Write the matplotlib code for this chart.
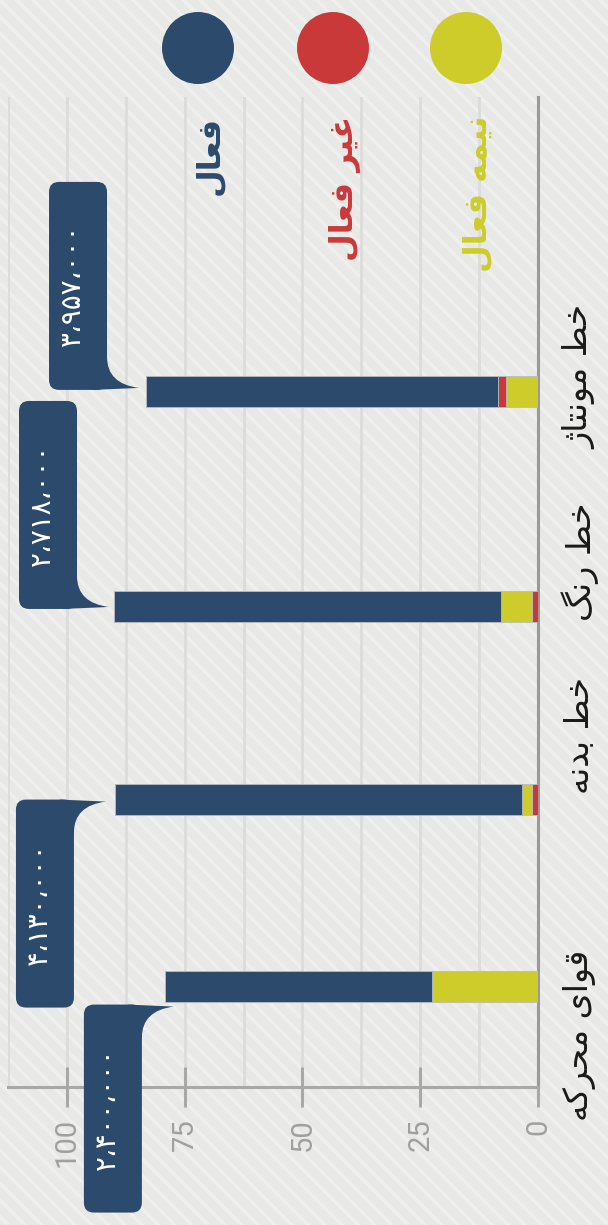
import matplotlib
matplotlib.use("Agg")
import matplotlib.pyplot as plt
from matplotlib.patches import Rectangle, Circle, FancyBboxPatch, PathPatch
from matplotlib.path import Path
from matplotlib.transforms import IdentityTransform

W, H = 608, 1225

# bottom to top
categories = ["قوای محرکه", "خط بدنه", "خط رنگ", "خط مونتاژ"]
active = [56.6, 86.4, 82.1, 74.7]
inactive = [0.0, 1.3, 1.3, 1.7]
semi_active = [22.6, 2.1, 6.6, 6.8]
amounts = ["۲،۴۰۰،۰۰۰", "۴،۱۳۰،۰۰۰", "۲،۷۱۸،۰۰۰", "۳،۹۵۷،۰۰۰"]

series_names = ["فعال", "غیر فعال", "نیمه فعال"]
series_colors = ["#2c4a6c", "#c9393a", "#cdcc2b"]

# which segment sits at the baseline, per bar
stack_order = [
    ["semi", "inactive", "active"],
    ["inactive", "semi", "active"],
    ["inactive", "semi", "active"],
    ["semi", "inactive", "active"],
]

# layout (pixels / slots)
bar_slot = [0.0, 1.0, 2.03, 3.18]
label_y = [1035, 735, 562, 377]
# callout tip offset from bar end (px) and whether the box hangs below
tip_offset = [(9, -20), (-9, -2), (-5, 0), (-7, 4)]
box_below = [True, True, False, False]

# contextual forms for the letters used here: isolated, final, initial, medial
FORMS = {
    'ا': ('\uFE8D', '\uFE8E', None, None),
    'ب': ('\uFE8F', '\uFE90', '\uFE91', '\uFE92'),
    'ت': ('\uFE95', '\uFE96', '\uFE97', '\uFE98'),
    'ح': ('\uFEA1', '\uFEA2', '\uFEA3', '\uFEA4'),
    'خ': ('\uFEA5', '\uFEA6', '\uFEA7', '\uFEA8'),
    'د': ('\uFEA9', '\uFEAA', None, None),
    'ر': ('\uFEAD', '\uFEAE', None, None),
    'ژ': ('\uFB8A', '\uFB8B', None, None),
    'ط': ('\uFEC1', '\uFEC2', '\uFEC3', '\uFEC4'),
    'ع': ('\uFEC9', '\uFECA', '\uFECB', '\uFECC'),
    'غ': ('\uFECD', '\uFECE', '\uFECF', '\uFED0'),
    'ف': ('\uFED1', '\uFED2', '\uFED3', '\uFED4'),
    'ق': ('\uFED5', '\uFED6', '\uFED7', '\uFED8'),
    'ک': ('\uFB8E', '\uFB8F', '\uFB90', '\uFB91'),
    'گ': ('\uFB92', '\uFB93', '\uFB94', '\uFB95'),
    'ل': ('\uFEDD', '\uFEDE', '\uFEDF', '\uFEE0'),
    'م': ('\uFEE1', '\uFEE2', '\uFEE3', '\uFEE4'),
    'ن': ('\uFEE5', '\uFEE6', '\uFEE7', '\uFEE8'),
    'ه': ('\uFEE9', '\uFEEA', '\uFEEB', '\uFEEC'),
    'و': ('\uFEED', '\uFEEE', None, None),
    'ی': ('\uFBFC', '\uFBFD', '\uFBFE', '\uFBFF'),
}


def shape(text):
    # matplotlib does no arabic shaping, so pick the joined forms and reverse
    out = []
    for i, ch in enumerate(text):
        if ch not in FORMS:
            out.append(ch)
            continue
        prev = text[i - 1] if i > 0 else ''
        nxt = text[i + 1] if i + 1 < len(text) else ''
        iso, fin, ini, med = FORMS[ch]
        join_prev = prev in FORMS and FORMS[prev][2] is not None
        join_next = nxt in FORMS and ini is not None
        if join_prev and join_next:
            out.append(med)
        elif join_prev:
            out.append(fin)
        elif join_next:
            out.append(ini)
        else:
            out.append(iso)
    return ''.join(reversed(out))


def callout(fig, tip, below, text, color):
    tx, ty = tip
    bw, bh, r = 58, 208, 10
    right = tx - 32
    left = right - bw
    if below:
        top = ty + 2
        bottom = top - bh
        s = 1
    else:
        bottom = ty - 2
        top = bottom + bh
        s = -1
    fig.patches.append(FancyBboxPatch((left, bottom), bw, bh,
                                      boxstyle="round,pad=0,rounding_size=%d" % r,
                                      transform=IdentityTransform(),
                                      facecolor=color, edgecolor='none', zorder=5))
    edge_y = top if below else bottom
    start = (right, ty - s * 31)
    verts = [start, (right, ty - s * 4), (tx, ty),
             (right - 14, edge_y), (right - 14, start[1]), start]
    codes = [Path.MOVETO, Path.CURVE3, Path.CURVE3,
             Path.LINETO, Path.LINETO, Path.CLOSEPOLY]
    fig.patches.append(PathPatch(Path(verts, codes), transform=IdentityTransform(),
                                 facecolor=color, edgecolor='none', zorder=5))
    fig.text((left + bw / 2 - 6) / W, (bottom + bh / 2) / H, text, rotation=90,
             ha='center', va='center', color='white', fontsize=20,
             family='DejaVu Sans', zorder=6)


def main():
    fig = plt.figure(figsize=(W / 100, H / 100), dpi=100)
    fig.patch.set_facecolor('#e8e8e7')
    # faint diagonal stripes behind everything
    with plt.rc_context({'hatch.linewidth': 2.5}):
        stripes = Rectangle((0, 0), 1, 1, transform=fig.transFigure,
                            facecolor='none', edgecolor='#efefee',
                            hatch='\\\\', lw=0, zorder=-10)
        fig.patches.append(stripes)

    ax = fig.add_axes([8 / W, 1 - 1087 / H, 530 / W, 990 / H])
    ax.set_facecolor('none')
    ax.set_xlim(112.5, 0)
    ax.set_ylim(-0.537, 4.757)

    values = {"active": active, "inactive": inactive, "semi": semi_active}
    colors = {"active": series_colors[0], "inactive": series_colors[1],
              "semi": series_colors[2]}
    for i, order in enumerate(stack_order):
        left = 0
        for key in order:
            v = values[key][i]
            if v > 0:
                ax.barh(bar_slot[i], v, left=left, height=0.166,
                        color=colors[key], edgecolor='#b9bcc0', lw=0.6, zorder=3)
            left += v

    ax.set_xticks([0, 25, 50, 75, 100])
    ax.set_xticks([12.5, 37.5, 62.5, 87.5, 112.5], minor=True)
    ax.grid(axis='x', which='both', color='#dcdcdc', lw=2, zorder=0)
    ax.set_yticks([])
    ax.tick_params(axis='x', which='major', direction='inout', length=29,
                   width=2.2, color='#a8a8a8', pad=8, labelsize=21,
                   labelcolor='#a0a0a0', labelrotation=90)
    ax.tick_params(axis='x', which='minor', length=0)
    for lab in ax.get_xticklabels():
        lab.set_family('Roboto')
    for side in ['left', 'top']:
        ax.spines[side].set_visible(False)
    ax.spines['right'].set_color('#9a9a9a')
    ax.spines['right'].set_linewidth(2.2)
    ax.spines['bottom'].set_color('#a8a8a8')
    ax.spines['bottom'].set_linewidth(2.2)

    # category names along the baseline
    for name, y in zip(categories, label_y):
        fig.text(580 / W, 1 - y / H, shape(name), rotation=90, ha='center',
                 va='center', fontsize=24, color='#1a1a1a', family='DejaVu Sans')

    # value callouts at the bar ends
    for i in range(len(categories)):
        total = active[i] + inactive[i] + semi_active[i]
        px, py = ax.transData.transform((total, bar_slot[i]))
        dx, dy = tip_offset[i]
        callout(fig, (px + dx, py + dy), box_below[i], amounts[i], series_colors[0])

    # legend dots and names
    for name, color, cx in zip(series_names, series_colors, [198, 333, 466]):
        fig.patches.append(Circle((cx, H - 48), 36, transform=IdentityTransform(),
                                  facecolor=color, edgecolor='none'))
        fig.text((cx + 12) / W, 1 - 116 / H, shape(name), rotation=90, ha='center',
                 va='top', fontsize=23, fontweight='bold', color=color,
                 family='DejaVu Sans')

    fig.savefig("out.png", dpi=100, facecolor=fig.get_facecolor())


if __name__ == "__main__":
    main()
